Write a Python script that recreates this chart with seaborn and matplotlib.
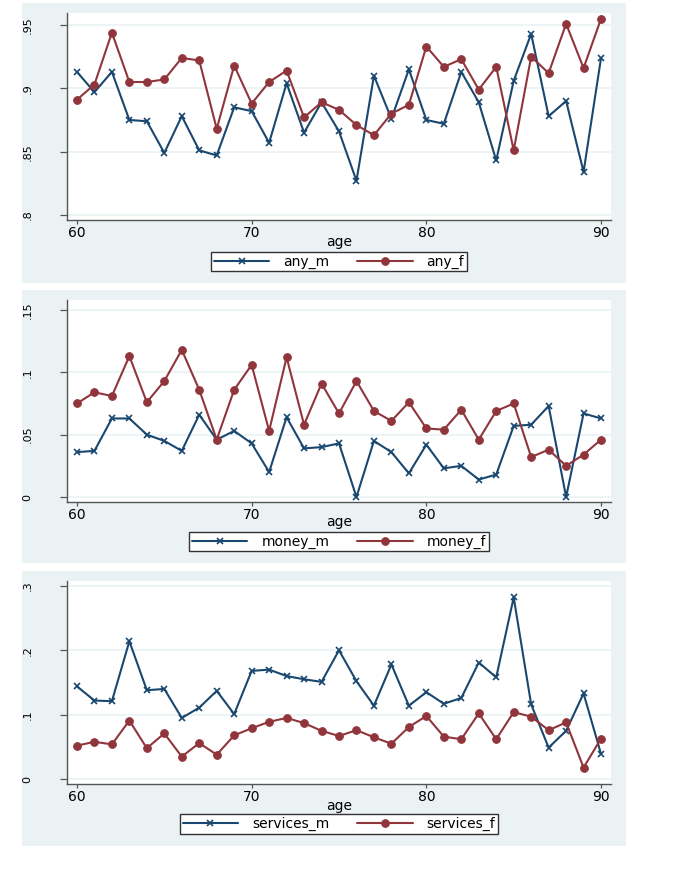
import matplotlib
matplotlib.use("Agg")
import matplotlib.pyplot as plt
import seaborn as sns

# 数据：年龄 60-90
ages = list(range(60, 91))

any_m = [0.913, 0.897, 0.913, 0.875, 0.874, 0.849, 0.878, 0.851, 0.847, 0.885,
         0.882, 0.857, 0.904, 0.865, 0.889, 0.866, 0.827, 0.910, 0.876, 0.915,
         0.875, 0.872, 0.913, 0.889, 0.843, 0.906, 0.943, 0.878, 0.890, 0.834, 0.924]
any_f = [0.891, 0.903, 0.944, 0.905, 0.905, 0.907, 0.924, 0.922, 0.868, 0.918,
         0.888, 0.905, 0.914, 0.877, 0.889, 0.883, 0.871, 0.863, 0.880, 0.887,
         0.933, 0.917, 0.923, 0.899, 0.917, 0.851, 0.925, 0.912, 0.951, 0.916, 0.955]

money_m = [0.036, 0.037, 0.063, 0.063, 0.050, 0.045, 0.037, 0.066, 0.046, 0.053,
           0.043, 0.020, 0.064, 0.039, 0.040, 0.043, 0.000, 0.045, 0.036, 0.019,
           0.042, 0.023, 0.025, 0.014, 0.018, 0.057, 0.058, 0.073, 0.000, 0.067, 0.063]
money_f = [0.075, 0.084, 0.081, 0.113, 0.076, 0.093, 0.118, 0.086, 0.046, 0.086,
           0.106, 0.053, 0.112, 0.058, 0.091, 0.067, 0.093, 0.069, 0.061, 0.076,
           0.055, 0.054, 0.070, 0.046, 0.069, 0.075, 0.032, 0.038, 0.025, 0.034, 0.046]

services_m = [0.144, 0.122, 0.121, 0.214, 0.138, 0.140, 0.095, 0.111, 0.137, 0.101,
              0.168, 0.170, 0.160, 0.155, 0.151, 0.200, 0.152, 0.114, 0.178, 0.114,
              0.135, 0.117, 0.126, 0.181, 0.158, 0.282, 0.116, 0.049, 0.075, 0.133, 0.039]
services_f = [0.052, 0.058, 0.054, 0.091, 0.048, 0.071, 0.035, 0.056, 0.038, 0.068,
              0.079, 0.089, 0.095, 0.087, 0.075, 0.067, 0.076, 0.065, 0.055, 0.081,
              0.098, 0.066, 0.062, 0.102, 0.062, 0.104, 0.097, 0.076, 0.088, 0.018, 0.063]

panels = [
    ("any_m", any_m, "any_f", any_f, [0.8, 0.85, 0.9, 0.95], [".8", ".85", ".9", ".95"], (0.796, 0.9595)),
    ("money_m", money_m, "money_f", money_f, [0, 0.05, 0.1, 0.15], ["0", ".05", ".1", ".15"], (-0.004, 0.158)),
    ("services_m", services_m, "services_f", services_f, [0, 0.1, 0.2, 0.3], ["0", ".1", ".2", ".3"], (-0.0075, 0.3075)),
]

# 像素位置（背景框 / 绘图区 / 图例中心 / age 标签 y）
boxes = [
    ((22, 3, 626, 283), (67, 13, 611, 220), (339, 261.5), 242),
    ((22, 290, 626, 563), (67, 300, 611, 502), (339, 541.5), 522),
    ((22, 571, 626, 846), (67, 581, 611, 784), (339, 824), 806),
]

NAVY = "#1a476f"
MAROON = "#90353b"
BG = "#eaf2f3"
W, H = 675, 896

sns.set_theme(style="white")
plt.rcParams["font.family"] = ["DejaVu Sans"]
plt.rcParams["text.color"] = "black"

fig = plt.figure(figsize=(W / 100, H / 100), dpi=100)
fig.patch.set_facecolor("white")


def fx(x):
    return x / W


def rect(b):
    return [b[0] / W, 1 - b[3] / H, (b[2] - b[0]) / W, (b[3] - b[1]) / H]


for (mname, mvals, fname, fvals, yt, ytl, ylim), (bg, pa, leg, xl_y) in zip(panels, boxes):
    # 背景
    bax = fig.add_axes(rect(bg))
    bax.set_facecolor(BG)
    bax.set_xticks([])
    bax.set_yticks([])
    for s in bax.spines.values():
        s.set_visible(False)

    ax = fig.add_axes(rect(pa))
    ax.set_facecolor("white")

    sns.lineplot(x=ages, y=mvals, ax=ax, color=NAVY, lw=1.5, marker="x", markersize=4.5,
                 markeredgewidth=1.2, markeredgecolor=NAVY, label=mname)
    sns.lineplot(x=ages, y=fvals, ax=ax, color=MAROON, lw=1.5, marker="o", markersize=5.5,
                 markeredgecolor=MAROON, label=fname)

    ax.set_xlim(59.43, 90.57)
    ax.set_ylim(*ylim)
    ax.set_xticks([60, 70, 80, 90])
    ax.set_yticks(yt)
    ax.set_yticklabels(ytl, rotation=90, va="center")
    ax.yaxis.grid(True, color=BG, lw=1.2)
    ax.set_axisbelow(True)
    for s in ["top", "right"]:
        ax.spines[s].set_visible(False)
    for s in ["left", "bottom"]:
        ax.spines[s].set_color("#555555")
        ax.spines[s].set_linewidth(1.0)
    ax.tick_params(axis="both", which="major", direction="out", width=0.9,
                   color="#555555", labelcolor="black", bottom=True, left=True)
    ax.tick_params(axis="x", labelsize=10, length=3, pad=1.5)
    ax.tick_params(axis="y", labelsize=8, length=5, pad=20)
    ax.set_xlabel("")
    ax.set_ylabel("")
    fig.text(fx((pa[0] + pa[2]) / 2), 1 - xl_y / H, "age", ha="center", va="center", fontsize=10)

    ax.get_legend().remove()
    handles, labels = ax.get_legend_handles_labels()
    lg = fig.legend(handles, labels, loc="center", bbox_to_anchor=(fx(leg[0]), 1 - leg[1] / H),
                    ncol=2, handlelength=4, columnspacing=2.0, fancybox=False, framealpha=1,
                    edgecolor="#333333", fontsize=10, borderpad=0.2, handletextpad=1.0)
    lg.get_frame().set_linewidth(1.0)

fig.savefig("out.png", dpi=100, facecolor="white")
